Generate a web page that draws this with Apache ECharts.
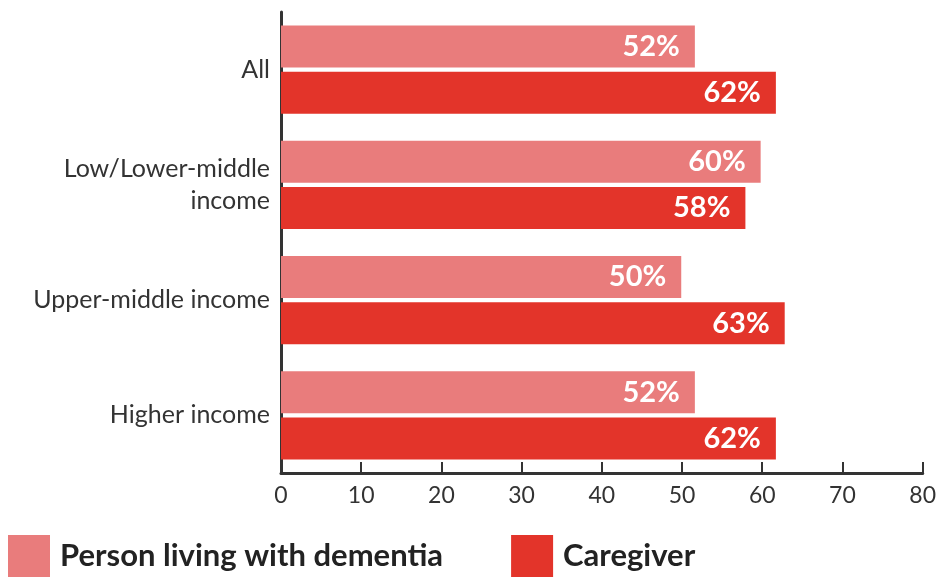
<!DOCTYPE html>
<html><head><meta charset="utf-8">
<script src="https://cdn.jsdelivr.net/npm/echarts@6/dist/echarts.min.js"></script>
<style>html,body{margin:0;padding:0;background:#fff}#c{width:939px;height:577px}</style>
</head><body><div id="c"></div>
<script>
var categories = ['All', 'Low/Lower-middle\nincome', 'Upper-middle income', 'Higher income'];
var personValues = [51.6, 59.8, 49.9, 51.6];
var caregiverValues = [61.7, 57.9, 62.8, 61.7];
var seriesNames = ['Person living with dementia', 'Caregiver'];
var xTicks = [0, 10, 20, 30, 40, 50, 60, 70, 80];

var FONT = 'Lato';
var chart = echarts.init(document.getElementById('c'), null, {renderer: 'canvas'});
function lbl() {
  return {show: true, position: 'insideRight', distance: 15, color: '#fff', fontFamily: FONT, fontWeight: 'bold', fontSize: 29,
    formatter: function (p) { return Math.round(p.value) + '%'; }};
}
chart.setOption({
  animation: false,
  grid: {left: 281, right: 13, top: 12, bottom: 104, containLabel: false},
  legend: {
    left: 8, top: 535, padding: 0, itemWidth: 42, itemHeight: 42, itemGap: 68, icon: 'rect',
    textStyle: {fontFamily: FONT, fontWeight: 'bold', fontSize: 31, color: '#222', padding: [6, 0, 0, 5]},
    data: seriesNames
  },
  xAxis: {
    type: 'value', min: 0, max: 80, interval: 10,
    axisLine: {show: true, lineStyle: {color: '#333', width: 3}},
    axisTick: {show: true, inside: true, length: 11, lineStyle: {color: '#333', width: 2}},
    splitLine: {show: false},
    axisLabel: {color: '#333', fontFamily: FONT, fontSize: 23, margin: 11,
      formatter: function (v) { return xTicks.indexOf(v) >= 0 ? String(v) : ''; }}
  },
  yAxis: {
    type: 'category', data: categories, inverse: true,
    axisLine: {show: true, lineStyle: {color: '#333', width: 3}},
    axisTick: {show: false},
    axisLabel: {color: '#333', fontFamily: FONT, fontSize: 25, margin: 11, lineHeight: 32, align: 'right',
      padding: [6, 0, 0, 0]}
  },
  series: [
    {name: seriesNames[0], type: 'bar', data: personValues, barWidth: 42, barGap: '10%',
      itemStyle: {color: '#E97C7C'}, label: lbl()},
    {name: seriesNames[1], type: 'bar', data: caregiverValues, barWidth: 42, barGap: '10%',
      itemStyle: {color: '#E3342A'}, label: lbl()}
  ]
});
</script></body></html>
